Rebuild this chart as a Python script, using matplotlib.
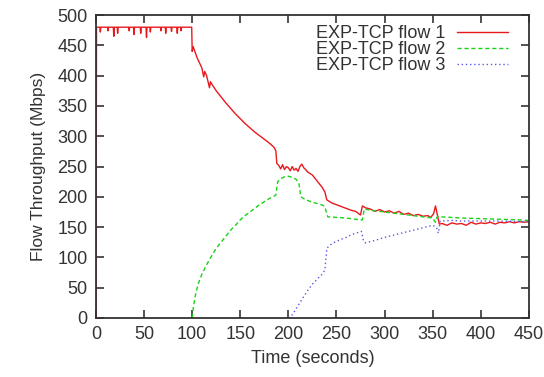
import numpy as np
import matplotlib
matplotlib.use("Agg")
import matplotlib.pyplot as plt

plt.rcParams['font.family'] = ['Liberation Sans', 'DejaVu Sans']

# flow 1: flat at ~480 with small dips, then decays once flow 2 joins
flow1_t = [0, 0.5, 4, 4.5, 5, 12, 12.5, 13, 18, 18.5, 19, 22, 22.5, 23, 34, 34.5, 35,
           39, 39.5, 40, 46, 46.5, 47, 52, 52.5, 53, 56, 56.5, 57, 67, 67.5, 68,
           72, 72.5, 73, 78, 78.5, 79, 84, 84.5, 85, 88, 88.5, 89, 99.5,
           100, 101, 105, 110, 112, 113, 115, 118, 119, 120, 125, 130, 135, 140,
           145, 150, 155, 160, 165, 170, 175, 180, 185, 187, 188,
           190, 192, 194, 196, 198, 200, 202, 204, 206, 208, 210, 212, 214, 216,
           218, 220, 225, 230, 235, 238, 240, 245, 250, 255, 260, 265, 270, 275,
           277, 280, 285, 290, 295, 300, 305, 310, 315, 320, 325, 330, 335, 340,
           345, 348, 351, 353, 355, 357, 360, 365, 370, 375, 380, 385, 390, 395,
           400, 405, 410, 415, 420, 425, 430, 435, 440, 445, 450]
flow1_v = [0, 480, 480, 472, 480, 480, 474, 480, 480, 465, 480, 480, 470, 480, 480, 474, 480,
           480, 468, 480, 480, 470, 480, 480, 463, 480, 480, 472, 480, 480, 474, 480,
           480, 470, 480, 480, 473, 480, 480, 470, 480, 480, 474, 480, 480,
           440, 448, 430, 413, 398, 407, 400, 380, 390, 387, 375, 365, 355, 346,
           337, 329, 321, 314, 307, 301, 295, 289, 282, 276, 255,
           252, 246, 253, 245, 250, 248, 243, 250, 244, 247, 242, 250, 254, 248,
           245, 241, 236, 226, 216, 208, 195, 190, 187, 184, 181, 178, 176, 170,
           185, 182, 180, 176, 179, 175, 177, 173, 176, 171, 173, 169, 171, 168,
           169, 166, 172, 185, 170, 155, 156, 153, 157, 155, 156, 153, 158, 155,
           157, 156, 158, 155, 158, 157, 159, 157, 159, 158, 159]

# flow 2: starts at t=100
flow2_t = [100, 101, 103, 106, 110, 115, 120, 125, 130, 135, 140, 145, 150, 155, 160,
           165, 170, 175, 180, 185, 187, 189, 192, 196, 200, 204, 208, 211, 213, 216,
           220, 225, 230, 236, 238, 241, 250, 260, 270, 275, 277, 279, 285, 290, 300,
           310, 320, 330, 340, 350, 353, 355, 358, 370, 380, 400, 420, 440, 450]
flow2_v = [0, 15, 35, 55, 72, 88, 102, 115, 125, 135, 145, 153, 162, 169, 175,
           181, 187, 192, 197, 201, 203, 225, 230, 233, 234, 232, 229, 222, 200, 197,
           194, 191, 189, 186, 183, 167, 166, 165, 163, 162, 162, 180, 178, 177, 175,
           173, 171, 169, 167, 165, 158, 168, 167, 166, 165, 164, 163, 162, 161]

# flow 3: starts at t=200
flow3_t = [200, 204, 210, 215, 220, 225, 230, 235, 238, 240, 243, 248, 255, 260, 265,
           270, 276, 278, 280, 290, 300, 310, 320, 330, 340, 350, 354, 356, 358,
           370, 380, 400, 420, 450]
flow3_v = [0, 5, 20, 33, 45, 56, 64, 72, 79, 115, 120, 125, 130, 133, 137,
           140, 143, 128, 124, 128, 133, 137, 141, 145, 149, 153, 150, 140, 160,
           161, 160, 160, 160, 159]

text_color = '#333333'

fig = plt.figure(figsize=(5.44, 3.77), dpi=100)
ax = fig.add_axes([0.1765, 0.1565, 0.7955, 0.8035])

ax.plot(flow1_t, flow1_v, color='#e8191e', lw=1.0, label='EXP-TCP flow 1')
ax.plot(flow2_t, flow2_v, color='#19d219', lw=1.0, ls=(0, (3, 2)), label='EXP-TCP flow 2')
ax.plot(flow3_t, flow3_v, color='#5a5ae6', lw=1.0, ls=(0, (1, 2)), label='EXP-TCP flow 3')

ax.set_xlim(0, 450)
ax.set_ylim(0, 500)
ax.set_xticks(np.arange(0, 451, 50))
ax.set_yticks(np.arange(0, 501, 50))
ax.tick_params(direction='in', top=True, right=True, length=6, width=1.2,
               labelsize=13, colors=text_color, pad=6)
for s in ax.spines.values():
    s.set_linewidth(1.3)
    s.set_color(text_color)

ax.set_xlabel('Time (seconds)', fontsize=13, color=text_color, labelpad=5)
ax.set_ylabel('Flow Throughput (Mbps)', fontsize=12.5, color=text_color, labelpad=8)

leg = ax.legend(loc='upper right', frameon=False, markerfirst=False, fontsize=13,
                handlelength=2.8, handletextpad=0.65, labelspacing=-0.05,
                borderpad=0, borderaxespad=0, bbox_to_anchor=(0.951, 0.967))
for t in leg.get_texts():
    t.set_color(text_color)

fig.savefig('out.png', dpi=100)
